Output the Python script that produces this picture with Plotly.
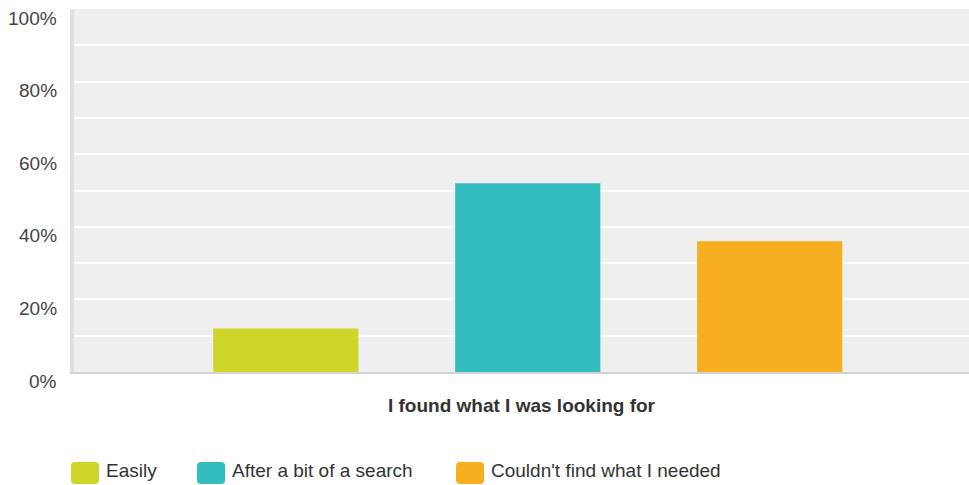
import plotly.graph_objects as go

category = ["I found what I was looking for"]
series_names = ["Easily", "After a bit of a search", "Couldn't find what I needed"]
series_values = [12, 52, 36]
series_colors = ["#D0D52A", "#34BDBF", "#F7AF1F"]
grid_vals = [0, 10, 20, 30, 40, 50, 60, 70, 80, 90, 100]
label_vals = [0, 20, 40, 60, 80, 100]
label_text = ["0%", "20%", "40%", "60%", "80%", "100%"]

W, H = 969, 485
PLOT_L, PLOT_R, PLOT_T, PLOT_B = 74, 969, 9, 372  # page pixels
L, T = PLOT_L, PLOT_T
R = W - PLOT_R
B = H - PLOT_B
PW, PH = PLOT_R - PLOT_L, PLOT_B - PLOT_T

def xp(px):
    return (px - PLOT_L) / PW

def yp(py):
    return (PLOT_B - py) / PH

def rounded_rect(x0, y0, x1, y1, r):
    # pixel box (page coords, y down) -> rounded-corner SVG path in paper coords
    pts = []
    def P(x, y):
        return f"{xp(x):.5f},{yp(y):.5f}"
    return (f"M {P(x0 + r, y0)} L {P(x1 - r, y0)} Q {P(x1, y0)} {P(x1, y0 + r)} "
            f"L {P(x1, y1 - r)} Q {P(x1, y1)} {P(x1 - r, y1)} "
            f"L {P(x0 + r, y1)} Q {P(x0, y1)} {P(x0, y1 - r)} "
            f"L {P(x0, y0 + r)} Q {P(x0, y0)} {P(x0 + r, y0)} Z")

fig = go.Figure()
for name, val, col in zip(series_names, series_values, series_colors):
    fig.add_trace(go.Bar(x=category, y=[val], name=name, marker_color=col,
                         marker_line_width=0, showlegend=False,
                         hovertemplate="%{y}%<extra>" + name + "</extra>"))

FONT = "Liberation Sans, Arial, sans-serif"
annotations = []
for v, t in zip(label_vals, label_text):
    annotations.append(dict(x=0, xref="paper", y=v, yref="y", text=t, showarrow=False,
                            xanchor="right", yanchor="middle", xshift=-15, yshift=-9,
                            font=dict(size=19, color="#444444", family=FONT)))

shapes = []
legend_starts = [71, 197, 456]
for start, name, col in zip(legend_starts, series_names, series_colors):
    shapes.append(dict(type="path", xref="paper", yref="paper",
                       path=rounded_rect(start, 462, start + 28, 484, 4),
                       fillcolor=col, line=dict(width=0), layer="above"))
    annotations.append(dict(x=xp(start + 33), xref="paper", y=yp(470), yref="paper",
                            text=name, showarrow=False, xanchor="left", yanchor="middle",
                            font=dict(size=19, color="#333333", family=FONT)))

fig.update_layout(
    width=W, height=H,
    margin=dict(l=L, r=R, t=T, b=B, pad=0),
    paper_bgcolor="white", plot_bgcolor="#EFEFEF",
    barmode="group", bargap=0.189, bargroupgap=0.4,
    showlegend=False,
    annotations=annotations, shapes=shapes,
    font=dict(family=FONT),
    xaxis=dict(range=[-0.507, 0.493], showticklabels=False, showgrid=False,
               showline=True, linecolor="#D2D2D2", linewidth=2, zeroline=False,
               title=dict(text="<b>I found what I was looking for</b>", standoff=26,
                          font=dict(size=19, color="#333333", family=FONT))),
    yaxis=dict(range=[0, 100], tickvals=grid_vals, showticklabels=False,
               showgrid=True, gridcolor="white", gridwidth=2, zeroline=False,
               showline=True, linecolor="#E0E0E0", linewidth=4),
)

fig.write_html("out.html",
               config={"displayModeBar": False},
               post_script="document.body.style.margin='0';"
                           "document.body.style.overflow='hidden';")
